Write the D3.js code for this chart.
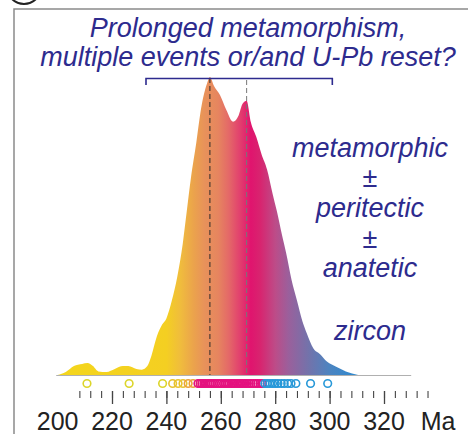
<!DOCTYPE html>
<html>
<head>
<meta charset="utf-8">
<script src="https://cdn.jsdelivr.net/npm/d3@7"></script>
<style>
  body { margin: 0; background: #fff; }
  svg { display: block; }
</style>
</head>
<body>
<div id="graph"></div>
<script>
// curve of the age density (Ma, relative density)
const curveAges = [200, 203, 206, 209, 211, 213, 215, 218, 221, 224, 226, 229, 231, 233,
  234.5, 236.5, 238.5, 240, 242, 244, 246, 247.5, 249, 251, 252.5, 253.5, 255, 256,
  257.5, 259.7, 262, 264.5, 266.5, 268, 269.5, 271, 273, 275, 277, 279, 280.6, 282.5,
  284, 286, 288, 290, 291.6, 294, 296.5, 299, 302.6, 306, 310.5];
const curveDens = [0, 0.01, 0.03, 0.037, 0.04, 0.03, 0.012, 0.01, 0.02, 0.03, 0.03, 0.02, 0.018, 0.03,
  0.065, 0.13, 0.17, 0.19, 0.25, 0.33, 0.44, 0.55, 0.66, 0.78, 0.88, 0.93, 0.98, 1.0,
  0.97, 0.94, 0.89, 0.85, 0.87, 0.91, 0.92, 0.85, 0.80, 0.74, 0.69, 0.61, 0.55, 0.47,
  0.41, 0.32, 0.25, 0.18, 0.14, 0.09, 0.07, 0.045, 0.027, 0.012, 0];

// single zircon ages (Ma)
const zirconAges = [210.8, 226.3,
  238.6, 242.3, 244.3, 246.1, 248, 249.8,
  251.6, 252.4, 253.1, 253.8, 254.5, 255.3, 256, 256.6, 257.3, 258, 258.8, 259.5, 260.2,
  261, 261.6, 262.3, 263, 263.8, 264.5, 265.2, 266, 266.7, 267.4, 268.1, 268.9, 269.6,
  270.4, 271.1, 272, 272.8, 273.6, 274.5, 275.3,
  276.2, 277.1, 278, 279, 280, 281, 282.2, 283.3, 284.6, 285.8, 287.6, 293, 299.3];

// peaks and the bracketed range (Ma)
const peakAges = [256, 269.5];
const bracketRange = [232.5, 301];

// axis
const labelTicks = [200, 220, 240, 260, 280, 300, 320];
const minorTicks = d3.range(208, 337, 4);
const majorTicks = [220, 240, 260, 280, 300, 320];

// texts
const titleLines = ["Prolonged metamorphism,", "multiple events or/and U-Pb reset?"];
const sideLines = ["metamorphic", "±", "peritectic", "±", "anatetic", "", "zircon"];

const width = 468, height = 434;
const baseY = 375;

const x = d3.scaleLinear().domain([200, 320]).range([57.6, 384]);
const y = d3.scaleLinear().domain([0, 1]).range([baseY, 77]);

const svg = d3.select("#graph").append("svg")
    .attr("width", width)
    .attr("height", height);

// panel frame and panel letter circle
svg.append("path")
    .attr("d", "M14,434 V9 H468")
    .attr("fill", "none")
    .attr("stroke", "#8a8a8a")
    .attr("stroke-width", 1.5);
svg.append("circle")
    .attr("cx", 24).attr("cy", -13).attr("r", 17)
    .attr("fill", "#fff")
    .attr("stroke", "#222")
    .attr("stroke-width", 2);

// gradient along the age axis
const gradStops = [
  [200, "#f4d61c"], [240, "#f4cf22"], [245, "#f0bd3c"], [250, "#eba34c"],
  [254, "#e8925a"], [259, "#e6855f"], [263, "#e46868"], [267, "#e2406e"],
  [271, "#e0146e"], [274.5, "#d8246f"], [280, "#bd4c88"], [285, "#9a609c"],
  [292, "#7472aa"], [300, "#4c84c0"], [310, "#2e8ad0"]
];
const grad = svg.append("defs").append("linearGradient")
    .attr("id", "ageGrad")
    .attr("gradientUnits", "userSpaceOnUse")
    .attr("x1", x(200)).attr("x2", x(310))
    .attr("y1", 0).attr("y2", 0);
grad.selectAll("stop")
    .data(gradStops)
    .enter().append("stop")
    .attr("offset", d => (d[0] - 200) / 110)
    .attr("stop-color", d => d[1]);

// baseline
svg.append("line")
    .attr("x1", x(199.5)).attr("x2", x(330))
    .attr("y1", baseY + 0.5).attr("y2", baseY + 0.5)
    .attr("stroke", "#b0b0b0")
    .attr("stroke-width", 1);

// density area
const area = d3.area()
    .x((d, i) => x(curveAges[i]))
    .y0(baseY)
    .y1(d => y(d))
    .curve(d3.curveMonotoneX);
svg.append("path")
    .datum(curveDens)
    .attr("d", area)
    .attr("fill", "url(#ageGrad)");

// dashed peak lines
svg.selectAll("line.peak")
    .data(peakAges)
    .enter().append("line")
    .attr("class", "peak")
    .attr("x1", d => x(d)).attr("x2", d => x(d))
    .attr("y1", (d, i) => i === 0 ? 78 : 80)
    .attr("y2", baseY)
    .attr("stroke", (d, i) => i === 0 ? "#2a2a2a" : "#777")
    .attr("stroke-width", 1)
    .attr("stroke-dasharray", "5,3");

// bracket
svg.append("path")
    .attr("d", "M" + x(bracketRange[0]) + ",85 V78.5 H" + x(bracketRange[1]) + " V85")
    .attr("fill", "none")
    .attr("stroke", "#2d2b8e")
    .attr("stroke-width", 1.6);

// zircon circles
const circleColor = d3.scaleThreshold()
    .domain([241, 247, 250.8, 275.8])
    .range(["#dcd52a", "#e8c22e", "#eaa03a", "#e4127f", "#2798d8"]);
svg.selectAll("circle.zr")
    .data(zirconAges)
    .enter().append("circle")
    .attr("class", "zr")
    .attr("cx", d => x(d))
    .attr("cy", 383.5)
    .attr("r", 3.8)
    .attr("fill", "none")
    .attr("stroke", d => circleColor(d))
    .attr("stroke-width", 1.6);

// ticks
svg.append("g")
    .attr("transform", "translate(0,391)")
    .call(d3.axisBottom(x).tickValues(minorTicks).tickSize(7).tickFormat(""))
    .call(g => g.select(".domain").remove())
    .call(g => g.selectAll("line").attr("stroke", "#444").attr("stroke-width", 1.1));
svg.append("g")
    .attr("transform", "translate(0,391)")
    .call(d3.axisBottom(x).tickValues(majorTicks).tickSize(13).tickFormat(""))
    .call(g => g.select(".domain").remove())
    .call(g => g.selectAll("line").attr("stroke", "#444").attr("stroke-width", 1.3));

// tick labels
svg.selectAll("text.lab")
    .data(labelTicks)
    .enter().append("text")
    .attr("class", "lab")
    .attr("x", d => x(d))
    .attr("y", 430)
    .attr("text-anchor", "middle")
    .style("font-family", "Liberation Sans, Arial, sans-serif")
    .style("font-size", "25px")
    .attr("fill", "#222")
    .text(d => d);
svg.append("text")
    .attr("x", 438)
    .attr("y", 430)
    .attr("text-anchor", "middle")
    .style("font-family", "Liberation Sans, Arial, sans-serif")
    .style("font-size", "25px")
    .attr("fill", "#222")
    .text("Ma");

// title
svg.selectAll("text.title")
    .data(titleLines)
    .enter().append("text")
    .attr("class", "title")
    .attr("x", 248)
    .attr("y", (d, i) => 36.5 + i * 29)
    .attr("text-anchor", "middle")
    .style("font-family", "Liberation Sans, Arial, sans-serif")
    .style("font-style", "italic")
    .style("font-size", "27px")
    .attr("fill", "#2d2b8e")
    .text(d => d);

// side annotation
const sideY = [156.5, 187, 216.5, 248, 276.5, 0, 340];
svg.selectAll("text.side")
    .data(sideLines)
    .enter().append("text")
    .attr("class", "side")
    .attr("x", 370)
    .attr("y", (d, i) => sideY[i])
    .attr("text-anchor", "middle")
    .style("font-family", "Liberation Sans, Arial, sans-serif")
    .style("font-style", (d) => d === "±" ? "normal" : "italic")
    .style("font-size", "27px")
    .attr("fill", "#2d2b8e")
    .text(d => d);
</script>
</body>
</html>
